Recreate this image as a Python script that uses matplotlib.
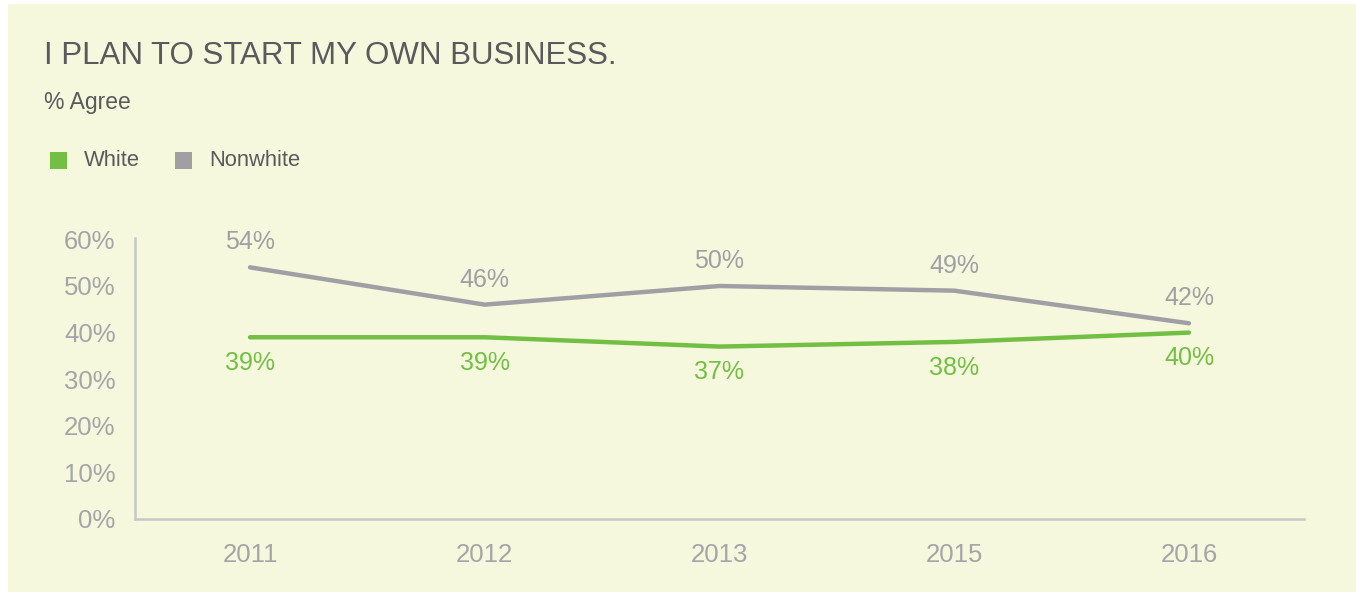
import matplotlib
matplotlib.use("Agg")
import matplotlib.pyplot as plt
from matplotlib.patches import Rectangle

years = ["2011", "2012", "2013", "2015", "2016"]
white = [39, 39, 37, 38, 40]
nonwhite = [54, 46, 50, 49, 42]
yticks = [0, 10, 20, 30, 40, 50, 60]

GREEN = "#72bf44"
GRAY = "#a0a0a4"
TICK = "#a5a5a8"
DARK = "#5a5a5c"
BG = "#f5f8dd"
SPINE = "#c8c8ca"

plt.rcParams["font.family"] = ["Liberation Sans", "DejaVu Sans"]

W, H = 1356, 592
fig = plt.figure(figsize=(W / 100, H / 100), dpi=100, facecolor="white")
fig.add_artist(Rectangle((8 / W, 0), 1 - 8 / W, 1 - 4 / H, transform=fig.transFigure,
                         facecolor=BG, edgecolor="none", zorder=-10))

ax = fig.add_axes([135 / W, 1 - 519 / H, (1304 - 135) / W, (519 - 238) / H])
ax.set_facecolor("none")
x = list(range(len(years)))
ax.plot(x, nonwhite, color=GRAY, lw=3.2, solid_capstyle="round")
ax.plot(x, white, color=GREEN, lw=3.2, solid_capstyle="round")

for xi, v in zip(x, nonwhite):
    ax.annotate(f"{v}%", (xi, v), xytext=(0, 18), textcoords="offset points",
                ha="center", va="center", color=GRAY, fontsize=18)
for xi, v in zip(x, white):
    ax.annotate(f"{v}%", (xi, v), xytext=(0, -18.5), textcoords="offset points",
                ha="center", va="center", color=GREEN, fontsize=18)

ax.set_xlim(-0.49, 4.49)
ax.set_ylim(0, 60.3)
ax.set_xticks(x)
ax.set_xticklabels(years)
ax.set_yticks(yticks)
ax.set_yticklabels([f"{t}%" for t in yticks])
ax.tick_params(length=0, colors=TICK, labelsize=18.5)
ax.tick_params(axis="y", pad=14)
ax.tick_params(axis="x", pad=17)
for s in ["top", "right"]:
    ax.spines[s].set_visible(False)
for s in ["left", "bottom"]:
    ax.spines[s].set_color(SPINE)
    ax.spines[s].set_linewidth(1.8)

fig.text(44 / W, 1 - 56 / H, "I PLAN TO START MY OWN BUSINESS.", fontsize=22.5,
         color=DARK, ha="left", va="center")
fig.text(44 / W, 1 - 103 / H, "% Agree", fontsize=16.5, color=DARK, ha="left", va="center")

# legend
for x0, label, col in [(50, "White", GREEN), (175, "Nonwhite", GRAY)]:
    fig.add_artist(Rectangle((x0 / W, 1 - 169 / H), 17 / W, 17 / H, transform=fig.transFigure,
                             facecolor=col, edgecolor="none"))
    fig.text((x0 + 34) / W, 1 - 161 / H, label, fontsize=15.8, color=DARK,
             ha="left", va="center")

fig.savefig("out.png", dpi=100, facecolor="white")
